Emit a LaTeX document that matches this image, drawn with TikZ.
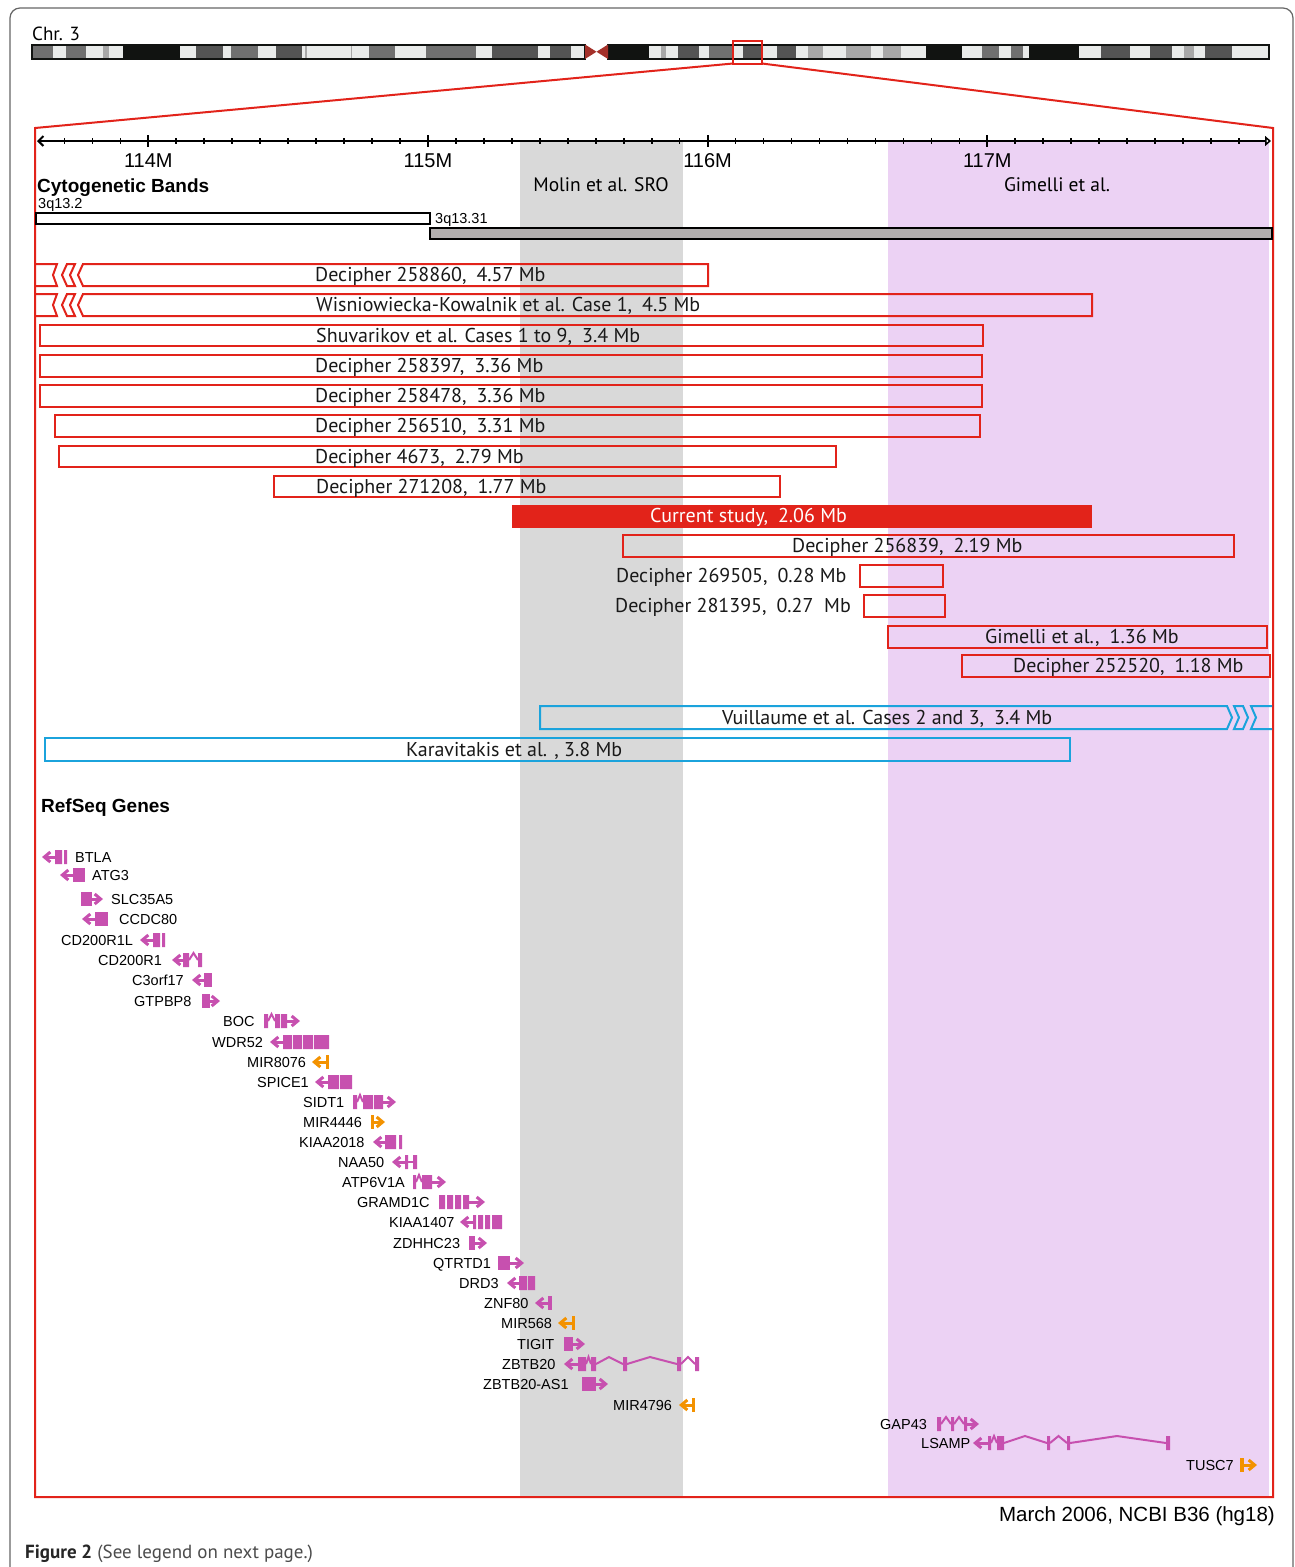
\documentclass[tikz,border=0pt]{standalone}
\usepackage{fontspec}
\setmainfont{Liberation Sans}
\newfontfamily\myriad{PT Sans}
\usetikzlibrary{arrows.meta}

\definecolor{delred}{RGB}{226,35,26}
\definecolor{dupblue}{RGB}{27,163,220}
\definecolor{genepink}{RGB}{199,80,175}
\definecolor{mirorange}{RGB}{243,146,0}
\definecolor{srogray}{RGB}{217,217,217}
\definecolor{gimlilac}{RGB}{236,210,244}
\definecolor{bandlight}{RGB}{233,235,234}
\definecolor{bandmid}{RGB}{112,112,112}
\definecolor{banddark}{RGB}{84,84,84}
\definecolor{bandpale}{RGB}{168,168,168}
\definecolor{bandblack}{RGB}{17,19,17}
\definecolor{cenred}{RGB}{164,49,42}
\definecolor{qgray}{RGB}{179,175,175}

\newcommand{\csep}{,\hspace{10pt}}

\tikzset{
  delbox/.style={draw=delred,line width=2pt},
  dupbox/.style={draw=dupblue,line width=2pt},
  dellabel/.style={anchor=base west,inner sep=0pt,text=black!90,
    font=\myriad\fontsize{20}{22}\selectfont},
  genelabel/.style={anchor=base west,inner sep=0pt,
    font=\fontsize{14.5}{16}\selectfont},
  ticklabel/.style={anchor=base,inner sep=0pt,font=\fontsize{20}{22}\selectfont},
  tracktitle/.style={anchor=base west,inner sep=0pt,font=\bfseries\fontsize{19}{22}\selectfont},
  exon/.style={fill=genepink},
  intron/.style={draw=genepink,line width=2pt},
  strand/.style={draw=genepink,line width=3pt,-{Straight Barb[length=6pt,width=10pt]}},
  mirna/.style={draw=mirorange,line width=3pt,-{Straight Barb[length=6pt,width=10pt]}},
}

\begin{document}
\begin{tikzpicture}[x=1pt,y=-1pt]
  \useasboundingbox (0,0) rectangle (1295,1567);
  \fill[white] (0,0) rectangle (1295,1567);
  \draw[black!60,line width=1.2pt,rounded corners=10pt] (10,8) rectangle (1293,1600);

  % chromosome 3 ideogram
  \node[anchor=base west,inner sep=0pt,font=\myriad\fontsize{19}{22}\selectfont] (chr) at (32,40) {Chr. 3};
  \foreach \xa/\xb/\col in {32/52.6/bandmid,52.6/66/bandlight,66/86/bandmid,86/103/bandlight,
      103/109/bandpale,109/123/bandlight,123/180/bandblack,180/195.5/bandlight,195.5/223/banddark,
      223/231/bandlight,231/258/bandmid,258/275.5/bandlight,275.5/301.6/banddark,301.6/369/bandlight,
      305/306.5/bandpale,351/352/bandpale,
      369/394.7/bandmid,394.7/426/bandlight,426/476/bandmid,476/492/bandlight,492/537.5/banddark,
      537.5/550/bandlight,550/571/banddark,571/585/bandlight}
    \fill[\col] (\xa,44.5) rectangle (\xb,59);
  \foreach \xa/\xb/\col in {608/649/bandblack,649/660.7/bandlight,660.7/666/bandpale,666/678/bandlight,
      678/699/banddark,699/709/bandlight,709/732/bandmid,732/743/bandlight,743/763/banddark,
      763/777/bandlight,777/795.6/banddark,795.6/808/bandlight,808/823/bandpale,823/846/bandlight,
      846/871/bandpale,871/883/bandlight,883/901/bandpale,901/926/bandlight,926/962/bandblack,
      962/982/bandlight,982/999/bandmid,999/1011/bandlight,1011/1022.6/bandmid,1022.6/1029/bandlight,
      1029/1079/bandblack,1079/1100.6/bandlight,1100.6/1129.6/banddark,1129.6/1150/bandlight,
      1150/1171.5/banddark,1171.5/1183.6/bandlight,1183.6/1193.5/bandpale,1193.5/1204.7/bandlight,
      1204.7/1231.7/banddark,1231.7/1268.6/bandlight}
    \fill[\col] (\xa,44.5) rectangle (\xb,59);
  \draw[bandblack,line width=2pt] (32,44.5) rectangle (585,59);
  \draw[bandblack,line width=2pt] (608,44.5) rectangle (1268.6,59);
  \fill[cenred] (585,44.5) -- (596.5,51.75) -- (585,59) -- cycle;
  \fill[cenred] (608,44.5) -- (596.5,51.75) -- (608,59) -- cycle;

  % shaded critical regions
  \fill[srogray] (520,142) rectangle (683,1497);
  \fill[gimlilac] (888,142) rectangle (1268.5,1497);

  % zoom box and frame
  \draw[delred,line width=2pt] (733,40.5) rectangle (762,63.5);
  \draw[delred,line width=2pt] (733,63.5) -- (35,128) -- (35,1497) -- (1273,1497) -- (1273,128) -- (762,63.5);

  % position axis
  \draw[line width=2pt,{Straight Barb[length=5pt,width=10pt]}-{Triangle[open,length=6pt,width=10pt]}] (37,141) -- (1271,141);
  \foreach \i in {-3,...,39}{
    \pgfmathsetmacro{\tx}{148.3+27.967*\i}
    \pgfmathtruncatemacro{\major}{mod(\i+10,10)==0}
    \ifnum\major=1
      \draw[line width=2pt] (\tx,135) -- (\tx,147);
    \else
      \draw[line width=1.6pt] (\tx,138) -- (\tx,144);
    \fi
  }
  \node[ticklabel] (m114) at (148.3,167) {114M};
  \node[ticklabel] (m115) at (428,167) {115M};
  \node[ticklabel] (m116) at (707.6,167) {116M};
  \node[ticklabel] (m117) at (987.3,167) {117M};
  \node[anchor=base,inner sep=0pt,font=\myriad\fontsize{19.5}{22}\selectfont] (sro) at (601,191) {Molin et al. SRO};
  \node[anchor=base,inner sep=0pt,font=\myriad\fontsize{19.5}{22}\selectfont] (gim) at (1057,191) {Gimelli et al.};

  % cytogenetic bands
  \node[tracktitle] (cyto) at (37,192) {Cytogenetic Bands};
  \node[anchor=base west,inner sep=0pt,font=\fontsize{14.5}{16}\selectfont] (q132) at (38,208) {3q13.2};
  \node[anchor=base west,inner sep=0pt,font=\fontsize{14.5}{16}\selectfont] (q1331) at (435,223) {3q13.31};
  \draw[line width=2pt,fill=white] (36,212.5) rectangle (429.5,223.5);
  \draw[line width=2pt,fill=qgray] (429.5,227.5) rectangle (1272,239);

  % deletions
  \draw[delbox] (36,264) -- (57,264) -- (53,275) -- (57,286) -- (36,286);
  \draw[delbox] (67,264) -- (75,264) -- (70,275) -- (75,286) -- (67,286) -- (62,275) -- cycle;
  \draw[delbox] (83,264) -- (708,264) -- (708,286) -- (83,286) -- (78,275) -- cycle;
  \node[dellabel] (d258860) at (315,281.8) {Decipher 258860\csep 4.57 Mb};

  \draw[delbox] (36,294) -- (57,294) -- (53,305) -- (57,316) -- (36,316);
  \draw[delbox] (67,294) -- (75,294) -- (70,305) -- (75,316) -- (67,316) -- (62,305) -- cycle;
  \draw[delbox] (83,294) -- (1092,294) -- (1092,316) -- (83,316) -- (78,305) -- cycle;
  \node[dellabel] (wisn) at (316,311.8) {Wisniowiecka-Kowalnik et al. Case 1\csep 4.5 Mb};

  \draw[delbox] (40,325) rectangle (983,346);
  \node[dellabel] (shuv) at (316,342.3) {Shuvarikov et al. Cases 1 to 9\csep 3.4 Mb};
  \draw[delbox] (40,355) rectangle (982,377);
  \node[dellabel] (d258397) at (315,372.8) {Decipher 258397\csep 3.36 Mb};
  \draw[delbox] (40,385) rectangle (982,407);
  \node[dellabel] (d258478) at (315,402.8) {Decipher 258478\csep 3.36 Mb};
  \draw[delbox] (55,415) rectangle (980,437);
  \node[dellabel] (d256510) at (315,432.8) {Decipher 256510\csep 3.31 Mb};
  \draw[delbox] (59,446) rectangle (836,467);
  \node[dellabel] (d4673) at (315,463.3) {Decipher 4673\csep 2.79 Mb};
  \draw[delbox] (274,476) rectangle (780,497);
  \node[dellabel] (d271208) at (316,493.3) {Decipher 271208\csep 1.77 Mb};
  \fill[delred] (512,504.5) rectangle (1092,527.5);
  \node[dellabel,text=white] (current) at (650,522.8) {Current study\csep 2.06 Mb};
  \draw[delbox] (623,535) rectangle (1234,557);
  \node[dellabel] (d256839) at (792,552.8) {Decipher 256839\csep 2.19 Mb};
  \draw[delbox] (860,565) rectangle (943,587);
  \node[dellabel] (d269505) at (616,582.8) {Decipher 269505\csep 0.28 Mb};
  \draw[delbox] (864,595) rectangle (945,617);
  \node[dellabel] (d281395) at (615,612.8) {Decipher 281395\csep 0.27\ \ Mb};
  \draw[delbox] (888,626) rectangle (1267,648);
  \node[dellabel] (gimdel) at (985,643.8) {Gimelli et al.\csep 1.36 Mb};
  \draw[delbox] (962,655) rectangle (1270,677);
  \node[dellabel] (d252520) at (1013,672.8) {Decipher 252520\csep 1.18 Mb};

  % duplications
  \draw[dupbox] (540,706) -- (1227,706) -- (1232,717.5) -- (1227,729) -- (540,729) -- cycle;
  \draw[dupbox] (1234,706) -- (1243,706) -- (1248,717.5) -- (1243,729) -- (1234,729) -- (1239,717.5) -- cycle;
  \draw[dupbox] (1272,706) -- (1251,706) -- (1256,717.5) -- (1251,729) -- (1272,729);
  \node[dellabel] (vuil) at (722,724.3) {Vuillaume et al. Cases 2 and 3\csep 3.4 Mb};
  \draw[dupbox] (45,738) rectangle (1070,761);
  \node[dellabel] (karav) at (406,756.3) {Karavitakis et al. ,\ 3.8 Mb};

  % RefSeq genes
  \node[tracktitle] (refseq) at (41,812) {RefSeq Genes};

  % BTLA
  \draw[strand] (57,857) -- (42,857);
  \fill[exon] (55,850) rectangle (62,864) (64,850) rectangle (67,864);
  \node[genelabel] (gBTLA) at (75,862.2) {BTLA};
  % ATG3
  \draw[strand] (74,875) -- (60,875);
  \fill[exon] (73,868) rectangle (85,882);
  \node[genelabel] (gATG3) at (92,880.2) {ATG3};
  % SLC35A5
  \fill[exon] (81,892) rectangle (92,906);
  \draw[strand] (91,899) -- (103,899);
  \node[genelabel] (gSLC35A5) at (111,904.2) {SLC35A5};
  % CCDC80
  \draw[strand] (96,919) -- (82,919);
  \fill[exon] (95,912) rectangle (108,926);
  \node[genelabel] (gCCDC80) at (119,924.2) {CCDC80};
  % CD200R1L
  \draw[strand] (154,940) -- (140,940);
  \fill[exon] (153,933) rectangle (160,947) (162,933) rectangle (165,947);
  \node[genelabel] (gCD200R1L) at (61,945.2) {CD200R1L};
  % CD200R1
  \draw[strand] (184,960) -- (172,960);
  \fill[exon] (183,953) rectangle (189,967) (198,953) rectangle (202,967);
  \draw[intron] (189,960) -- (193.5,953) -- (198,960);
  \node[genelabel] (gCD200R1) at (98,965.2) {CD200R1};
  % C3orf17
  \draw[strand] (205,980) -- (192,980);
  \fill[exon] (204,973) rectangle (212,987);
  \node[genelabel] (gC3orf17) at (132,985.2) {C3orf17};
  % GTPBP8
  \fill[exon] (202,994) rectangle (210,1008);
  \draw[strand] (209,1001) -- (220,1001);
  \node[genelabel] (gGTPBP8) at (134,1006.2) {GTPBP8};
  % BOC
  \fill[exon] (264,1014) rectangle (268,1028) (275,1014) rectangle (280,1028) (281,1014) rectangle (287,1028);
  \draw[intron] (268,1021) -- (271.5,1014) -- (275,1021);
  \draw[strand] (286,1021) -- (300,1021);
  \node[genelabel] (gBOC) at (223,1026.2) {BOC};
  % WDR52
  \draw[strand] (284,1042) -- (270,1042);
  \fill[exon] (283,1035) rectangle (292,1049) (293,1035) rectangle (302,1049) (303,1035) rectangle (313,1049) (314,1035) rectangle (329,1049);
  \node[genelabel] (gWDR52) at (212,1047.2) {WDR52};
  % MIR8076
  \draw[mirna] (327,1062) -- (312,1062);
  \fill[mirorange] (326,1055) rectangle (329,1069);
  \node[genelabel] (gMIR8076) at (247,1067.2) {MIR8076};
  % SPICE1
  \draw[strand] (329,1082) -- (315,1082);
  \fill[exon] (328,1075) rectangle (339,1089) (340,1075) rectangle (352,1089);
  \node[genelabel] (gSPICE1) at (257,1087.2) {SPICE1};
  % SIDT1
  \fill[exon] (353,1095) rectangle (357,1109) (363,1095) rectangle (373,1109) (374,1095) rectangle (383,1109);
  \draw[intron] (357,1102) -- (360,1095) -- (363,1102);
  \draw[strand] (382,1102) -- (396,1102);
  \node[genelabel] (gSIDT1) at (303,1107.2) {SIDT1};
  % MIR4446
  \fill[mirorange] (371,1115) rectangle (374,1129);
  \draw[mirna] (373,1122) -- (385,1122);
  \node[genelabel] (gMIR4446) at (303,1127.2) {MIR4446};
  % KIAA2018
  \draw[strand] (386,1142) -- (373,1142);
  \fill[exon] (385,1135) rectangle (396,1149) (399,1135) rectangle (402,1149);
  \node[genelabel] (gKIAA2018) at (299,1147.2) {KIAA2018};
  % NAA50
  \draw[strand] (406,1162) -- (392,1162);
  \fill[exon] (405,1155) rectangle (408,1169) (413,1155) rectangle (417,1169);
  \draw[intron] (408,1162) -- (413,1162);
  \node[genelabel] (gNAA50) at (338,1167.2) {NAA50};
  % ATP6V1A
  \fill[exon] (413,1175) rectangle (416,1189) (422,1175) rectangle (432,1189);
  \draw[intron] (416,1182) -- (419,1175) -- (422,1182);
  \draw[strand] (431,1182) -- (446,1182);
  \node[genelabel] (gATP6V1A) at (342,1187.2) {ATP6V1A};
  % GRAMD1C
  \fill[exon] (439,1195) rectangle (445,1209) (447,1195) rectangle (453,1209) (455,1195) rectangle (461,1209) (463,1195) rectangle (469,1209);
  \draw[strand] (468,1202) -- (485,1202);
  \node[genelabel] (gGRAMD1C) at (357,1207.2) {GRAMD1C};
  % KIAA1407
  \draw[strand] (474,1222) -- (460,1222);
  \fill[exon] (473,1215) rectangle (476,1229) (478,1215) rectangle (483,1229) (485,1215) rectangle (490,1229) (492,1215) rectangle (502,1229);
  \node[genelabel] (gKIAA1407) at (389,1227.2) {KIAA1407};
  % ZDHHC23
  \fill[exon] (469,1236) rectangle (475,1250);
  \draw[strand] (474,1243) -- (487,1243);
  \node[genelabel] (gZDHHC23) at (393,1248.2) {ZDHHC23};
  % QTRTD1
  \fill[exon] (498,1256) rectangle (510,1270);
  \draw[strand] (509,1263) -- (524,1263);
  \node[genelabel] (gQTRTD1) at (433,1268.2) {QTRTD1};
  % DRD3
  \draw[strand] (520,1283) -- (507,1283);
  \fill[exon] (519,1276) rectangle (527,1290) (528,1276) rectangle (535,1290);
  \node[genelabel] (gDRD3) at (459,1288.2) {DRD3};
  % ZNF80
  \draw[strand] (549,1303) -- (535,1303);
  \fill[exon] (548,1296) rectangle (552,1310);
  \node[genelabel] (gZNF80) at (484,1308.2) {ZNF80};
  % MIR568
  \draw[mirna] (573,1323) -- (558,1323);
  \fill[mirorange] (572,1316) rectangle (575,1330);
  \node[genelabel] (gMIR568) at (501,1328.2) {MIR568};
  % TIGIT
  \fill[exon] (564,1337) rectangle (573,1351);
  \draw[strand] (572,1344) -- (585,1344);
  \node[genelabel] (gTIGIT) at (517,1349.2) {TIGIT};
  % ZBTB20
  \draw[strand] (579,1364) -- (564,1364);
  \fill[exon] (578,1357) rectangle (586,1371) (591,1357) rectangle (596,1371) (623,1357) rectangle (627,1371) (677,1357) rectangle (681,1371) (695,1357) rectangle (699,1371);
  \draw[intron] (586,1364) -- (588.5,1357) -- (591,1364) (596,1364) -- (609,1357) -- (623,1364)
    (627,1364) -- (650,1357) -- (677,1364) (681,1364) -- (688,1357) -- (695,1364);
  \node[genelabel] (gZBTB20) at (502,1369.2) {ZBTB20};
  % ZBTB20-AS1
  \fill[exon] (582,1377) rectangle (596,1391);
  \draw[strand] (595,1384) -- (608,1384);
  \node[genelabel] (gZBTB20AS1) at (483,1389.2) {ZBTB20-AS1};
  % MIR4796
  \draw[mirna] (693,1405) -- (679,1405);
  \fill[mirorange] (692,1398) rectangle (695,1412);
  \node[genelabel] (gMIR4796) at (613,1410.2) {MIR4796};
  % GAP43
  \fill[exon] (937,1417) rectangle (941,1431) (951,1417) rectangle (954,1431) (964,1417) rectangle (967,1431);
  \draw[intron] (941,1424) -- (946,1417) -- (951,1424) (954,1424) -- (959,1417) -- (964,1424);
  \draw[strand] (966,1424) -- (979,1424);
  \node[genelabel] (gGAP43) at (880,1429.2) {GAP43};
  % LSAMP
  \draw[strand] (989,1443) -- (973,1443);
  \fill[exon] (988,1436) rectangle (991,1450) (997,1436) rectangle (1004,1450) (1047,1436) rectangle (1050,1450) (1067,1436) rectangle (1070,1450) (1166,1436) rectangle (1170,1450);
  \draw[intron] (991,1443) -- (994,1436) -- (997,1443) (1004,1443) -- (1025,1436) -- (1047,1443)
    (1050,1443) -- (1058.5,1436) -- (1067,1443) (1070,1443) -- (1117,1436) -- (1166,1443);
  \node[genelabel] (gLSAMP) at (921,1448.2) {LSAMP};
  % TUSC7
  \fill[mirorange] (1240,1458) rectangle (1244,1472);
  \draw[mirna] (1243,1465) -- (1257,1465);
  \node[genelabel] (gTUSC7) at (1186,1470.2) {TUSC7};

  % assembly note and caption
  \node[anchor=base east,inner sep=0pt,font=\fontsize{20.5}{22}\selectfont] (build) at (1275,1521) {March 2006, NCBI B36 (hg18)};
  \node[anchor=base west,inner sep=0pt,font=\myriad\fontsize{19}{22}\selectfont,text=black!85] (caption) at (25,1558)
    {\textbf{Figure 2} {\color{black!70}(See legend on next page.)}};
\end{tikzpicture}
\end{document}
